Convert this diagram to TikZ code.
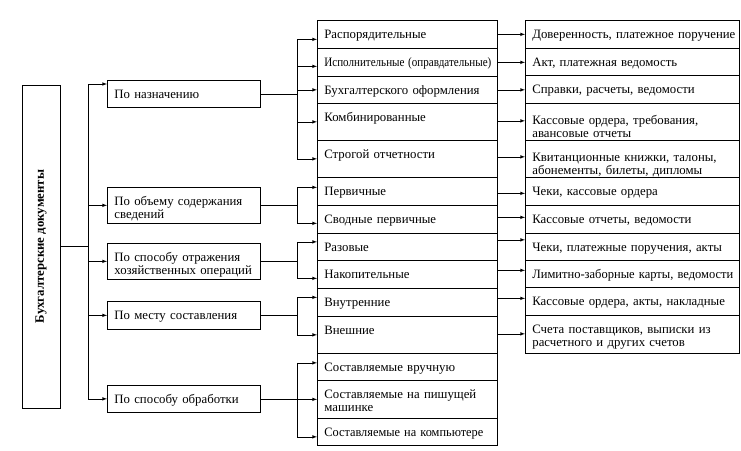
\documentclass[tikz,border=0pt]{standalone}
\usepackage{fontspec}
\setmainfont{Liberation Serif}
\usepackage{graphicx}
\usetikzlibrary{arrows}

\newcommand{\narrowtext}[2]{\resizebox{#1}{\height}{#2}}

% the value of kind, sort and sample is the depth below the first baseline
\tikzset{
  cell/.style={draw, line width=.7pt, anchor=north west, align=left, inner xsep=7pt, inner ysep=0pt,
    text height=18pt, font=\fontsize{12.8}{13.5}\selectfont},
  kind/.style={cell, text width=139pt, text depth=#1},
  sort/.style={cell, text width=166pt, text depth=#1},
  sample/.style={cell, text width=200pt, text depth=#1},
  lower/.style={text height=21pt},
  link/.style={line width=.6pt},
  arr/.style={link, -latex},
}

\begin{document}
\begin{tikzpicture}[x=1pt, y=-1pt]
  \useasboundingbox (0,0) rectangle (741,450);
  \node[draw, line width=.7pt, minimum width=38pt, minimum height=323pt, inner sep=0pt,
    font=\fontsize{12.8}{13.5}\selectfont] (root) at (41,246.5) {\rotatebox{90}{\bfseries Бухгалтерские документы}};

  \node[kind=9pt]  (k1) at (107, 80) {По назначению};
  \node[kind=18pt] (k2) at (107,187) {По объему содержания\\сведений};
  \node[kind=18pt] (k3) at (107,243) {По способу отражения\\хозяйственных операций};
  \node[kind=10pt] (k4) at (107,301) {По месту составления};
  \node[kind=9pt]  (k5) at (107,385) {По способу обработки};

  \node[sort=10pt] (r1)  at (317, 20) {Распорядительные};
  \node[sort=10pt] (r2)  at (317, 48) {\narrowtext{167pt}{Исполнительные (оправдательные)}};
  \node[sort=9pt]  (r3)  at (317, 76) {Бухгалтерского оформления};
  \node[sort=19pt] (r4)  at (317,103) {Комбинированные};
  \node[sort=19pt] (r5)  at (317,140) {Строгой отчетности};
  \node[sort=10pt] (r6)  at (317,177) {Первичные};
  \node[sort=10pt] (r7)  at (317,205) {Сводные первичные};
  \node[sort=9pt]  (r8)  at (317,233) {Разовые};
  \node[sort=10pt] (r9)  at (317,260) {Накопительные};
  \node[sort=10pt] (r10) at (317,288) {Внутренние};
  \node[sort=19pt] (r11) at (317,316) {Внешние};
  \node[sort=9pt]  (r12) at (317,353) {Составляемые вручную};
  \node[sort=20pt] (r13) at (317,380) {Составляемые на пишущей\\машинке};
  \node[sort=9pt]  (r14) at (317,418) {\narrowtext{159pt}{Составляемые на компьютере}};

  \node[sample=10pt] (d1)  at (525, 20) {\narrowtext{203pt}{Доверенность, платежное поручение}};
  \node[sample=9pt]  (d2)  at (525, 48) {Акт, платежная ведомость};
  \node[sample=10pt] (d3)  at (525, 75) {Справки, расчеты, ведомости};
  \node[sample=16pt, lower] (d4) at (525,103) {Кассовые ордера, требования,\\авансовые отчеты};
  \node[sample=16pt, lower] (d5) at (525,140) {Квитанционные книжки, талоны,\\абонементы, билеты, дипломы};
  \node[sample=10pt] (d6)  at (525,177) {Чеки, кассовые ордера};
  \node[sample=10pt] (d7)  at (525,205) {Кассовые отчеты, ведомости};
  \node[sample=9pt]  (d8)  at (525,233) {Чеки, платежные поручения, акты};
  \node[sample=9pt]  (d9)  at (525,260) {\narrowtext{201pt}{Лимитно-заборные карты, ведомости}};
  \node[sample=10pt] (d10) at (525,287) {Кассовые ордера, акты, накладные};
  \node[sample=20pt] (d11) at (525,315) {Счета поставщиков, выписки из\\расчетного и других счетов};

  \coordinate (trunk) at (88,0);
  \coordinate (spine) at (297,0);
  \coordinate (ink1) at ([yshift=-4pt]k1.north west);
  \draw[link] (root.east) -- (root.east -| trunk);
  \draw[link] (trunk |- ink1) -- (trunk |- k5.west);
  \draw[arr] (trunk |- ink1) -- (ink1);
  \foreach \k in {k2,k3,k4,k5}
    \draw[arr] (trunk |- \k.west) -- (\k.west);

  \foreach \r/\dy in {r1/-5,r2/-4,r3/0,r4/0,r5/0,r6/4,r7/-4,r8/5,r9/-4,r10/5,r11/0,r12/4,r13/0,r14/-5}{
    \coordinate (in\r) at ([yshift=\dy pt]\r.west);
    \draw[arr] (spine |- in\r) -- (in\r);
  }
  \foreach \k/\a/\b in {k1/r1/r5, k2/r6/r7, k3/r8/r9, k4/r10/r11, k5/r12/r14}{
    \draw[link] (\k.east) -- (spine |- \k.east);
    \draw[link] (spine |- in\a) -- (spine |- in\b);
  }

  \foreach \r/\d/\dy in {r1/d1/0,r2/d2/0,r3/d3/0,r4/d4/1,r5/d5/2,r6/d6/-2,r7/d7/2,r8/d8/7,r9/d9/4,r10/d10/4,r11/d11/1}{
    \coordinate (out\r) at ([yshift=\dy pt]\r.east);
    \draw[arr] (out\r) -- (out\r -| \d.west);
  }
\end{tikzpicture}
\end{document}
